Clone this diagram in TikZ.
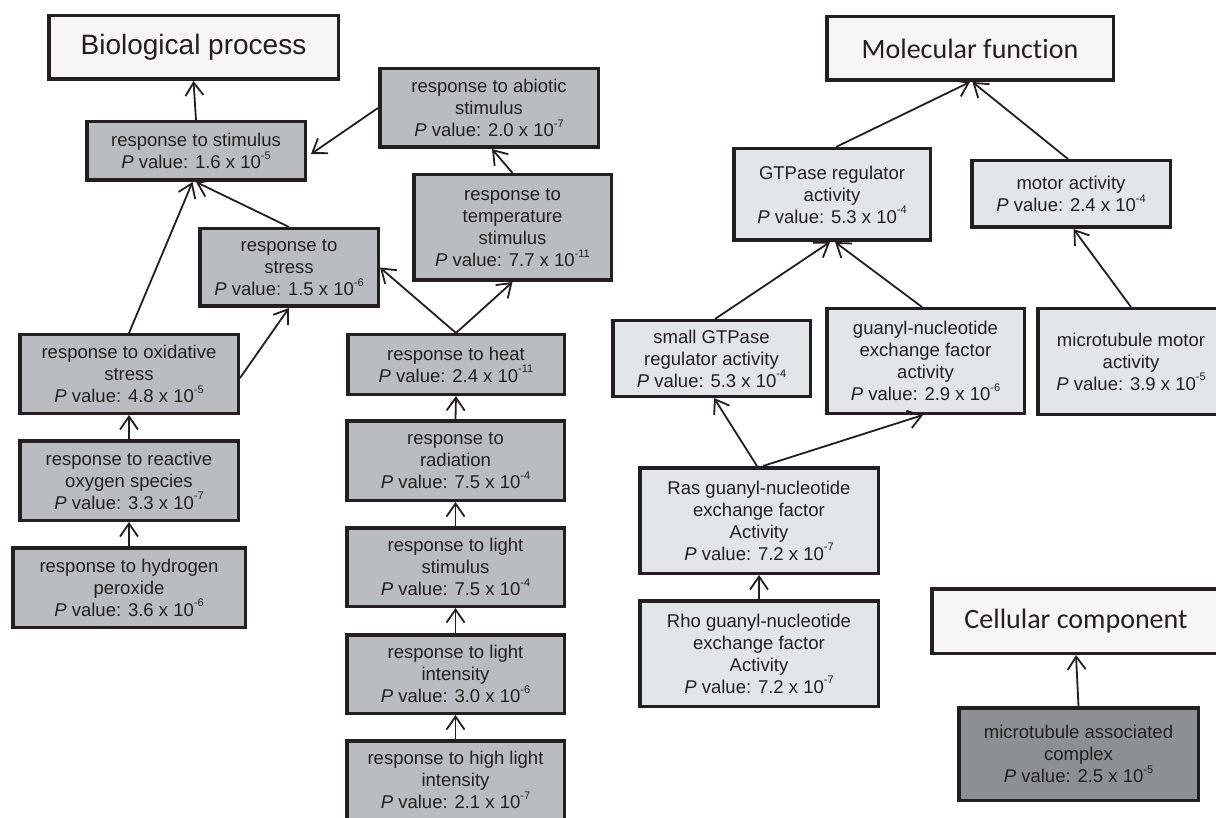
\documentclass[tikz,border=0pt]{standalone}
\usepackage{fontspec}
\setmainfont{Liberation Sans}
\newfontfamily\calfont[Ligatures=NoCommon]{Carlito}
\usetikzlibrary{arrows.meta}
\definecolor{midgray}{HTML}{BBBCBF}
\definecolor{palegray}{HTML}{E4E5E7}
\definecolor{deepgray}{HTML}{8E8F92}
\definecolor{rootfill}{HTML}{F6F6F6}
\definecolor{ink}{HTML}{231F20}
\newcommand{\pval}[2]{\textit{P} value: #1 x 10\raisebox{0.5em}{\fontsize{11}{11}\selectfont #2}}
\begin{document}
\begin{tikzpicture}[x=1pt,y=-1pt,
  gobox/.style={draw=ink, line width=3.5pt, align=center, inner sep=0pt, text=ink,
    font=\fontsize{18.5}{22}\selectfont},
  bpbox/.style={gobox, fill=midgray},
  mfbox/.style={gobox, fill=palegray},
  ccbox/.style={gobox, fill=deepgray},
  rootbox/.style={gobox, fill=rootfill},
  arr/.style={draw=ink, line width=1.8pt, -{Straight Barb[length=13pt,width=18pt]}},
]
\useasboundingbox[fill=white] (0,0) rectangle (1216,818);

% Biological process
\node[rootbox, minimum width=289.5pt, minimum height=63.5pt, font=\fontsize{28}{32}\selectfont] (bp) at (193.5,47.5) {Biological process};
\node[bpbox, minimum width=218.5pt, minimum height=58.5pt] (stim) at (196,151) {response to stimulus\\\pval{1.6}{-5}};
\node[bpbox, minimum width=218.5pt, minimum height=78.5pt] (abio) at (489,108) {response to abiotic\\stimulus\\\pval{2.0}{-7}};
\node[bpbox, minimum width=197.5pt, minimum height=105.5pt] (temp) at (512.5,227.5) {response to\\temperature\\stimulus\\\pval{7.7}{-11}};
\node[bpbox, minimum width=178.5pt, minimum height=77.5pt] (stress) at (289,267.5) {response to\\stress\\\pval{1.5}{-6}};
\node[bpbox, minimum width=218.5pt, minimum height=78.5pt] (oxid) at (129,374) {response to oxidative\\stress\\\pval{4.8}{-5}};
\node[bpbox, minimum width=216.5pt, minimum height=59.5pt] (heat) at (456,364.5) {response to heat\\\pval{2.4}{-11}};
\node[bpbox, minimum width=218.5pt, minimum height=79.5pt] (ros) at (129,480.5) {response to reactive\\oxygen species\\\pval{3.3}{-7}};
\node[bpbox, minimum width=232.5pt, minimum height=79.5pt] (hyd) at (129,587.5) {response to hydrogen\\peroxide\\\pval{3.6}{-6}};
\node[bpbox, minimum width=217.5pt, minimum height=79.5pt] (rad) at (455.5,460.5) {response to\\radiation\\\pval{7.5}{-4}};
\node[bpbox, minimum width=217.5pt, minimum height=78.5pt] (light) at (455.5,567) {response to light\\stimulus\\\pval{7.5}{-4}};
\node[bpbox, minimum width=217.5pt, minimum height=78.5pt] (lint) at (455.5,674) {response to light\\intensity\\\pval{3.0}{-6}};
\node[bpbox, minimum width=217.5pt, minimum height=78.5pt] (hlint) at (455.5,780) {response to high light\\intensity\\\pval{2.1}{-7}};

% Molecular function
\node[rootbox, minimum width=286.5pt, minimum height=63.5pt, font=\calfont\fontsize{28}{32}\selectfont] (mf) at (970,48.5) {Molecular function};
\node[mfbox, minimum width=196.5pt, minimum height=91.5pt] (gtpreg) at (832,194.5) {GTPase regulator\\activity\\\pval{5.3}{-4}};
\node[mfbox, minimum width=198.5pt, minimum height=66.5pt] (motor) at (1071,194) {motor activity\\\pval{2.4}{-4}};
\node[mfbox, minimum width=197.5pt, minimum height=75.5pt] (small) at (711.5,358.5) {small GTPase\\regulator activity\\\pval{5.3}{-4}};
\node[mfbox, minimum width=197.5pt, minimum height=104.5pt] (guanyl) at (925.5,361) {guanyl-nucleotide\\exchange factor\\activity\\\pval{2.9}{-6}};
\node[mfbox, minimum width=186.5pt, minimum height=105.5pt] (mtmotor) at (1131,361.5) {microtubule motor\\activity\\\pval{3.9}{-5}};
\node[mfbox, minimum width=238.5pt, minimum height=105.5pt] (ras) at (759,520.5) {Ras guanyl-nucleotide\\exchange factor\\Activity\\\pval{7.2}{-7}};
\node[mfbox, minimum width=238.5pt, minimum height=105.5pt] (rho) at (759,653.5) {Rho guanyl-nucleotide\\exchange factor\\Activity\\\pval{7.2}{-7}};

% Cellular component
\node[rootbox, minimum width=288.5pt, minimum height=64.5pt, font=\calfont\fontsize{28}{32}\selectfont] (cc) at (1076,621) {Cellular component};
\node[ccbox, minimum width=239.5pt, minimum height=92.5pt] (mtassoc) at (1078.5,754) {microtubule associated\\complex\\\pval{2.5}{-5}};

% connectors
\draw[arr] (stim.north) -- (bp.south);
\draw[arr] (abio.west) -- ([yshift=-3pt,xshift=4pt]stim.east);
\draw[arr] (temp.north) -- ([xshift=3pt]abio.south);
\draw[arr] (stress.north) -- (stim.south);
\draw[arr] (oxid.north) -- ([xshift=-3.5pt]stim.south);
\draw[arr] ([yshift=-4pt]oxid.east) -- (stress.south);
\draw[arr] (heat.north) -- (stress.east);
\draw[arr] (heat.north) -- (temp.south);
\draw[arr] (rad.north) -- (heat.south);
\draw[arr] (light.north) -- (rad.south);
\draw[arr] (lint.north) -- (light.south);
\draw[arr] (hlint.north) -- (lint.south);
\draw[arr] (ros.north) -- (oxid.south);
\draw[arr] (hyd.north) -- (ros.south);

\draw[arr] ([xshift=4pt]gtpreg.north) -- (mf.south);
\draw[arr] ([xshift=-3pt]motor.north) -- ([xshift=2.5pt]mf.south);
\draw[arr] ([xshift=3.5pt]small.north) -- ([xshift=-2pt]gtpreg.south);
\draw[arr] ([xshift=-3.5pt]guanyl.north) -- ([xshift=3pt]gtpreg.south);
\draw[arr] (mtmotor.north) -- ([xshift=2.5pt]motor.south);
\draw[arr] ([xshift=-2pt]ras.north) -- ([xshift=2.5pt]small.south);
\draw[arr] ([xshift=4pt]ras.north) -- ([xshift=-2.5pt]guanyl.south);
\draw[arr] (rho.north) -- (ras.south);
\draw[arr] (mtassoc.north) -- (cc.south);
\end{tikzpicture}
\end{document}
